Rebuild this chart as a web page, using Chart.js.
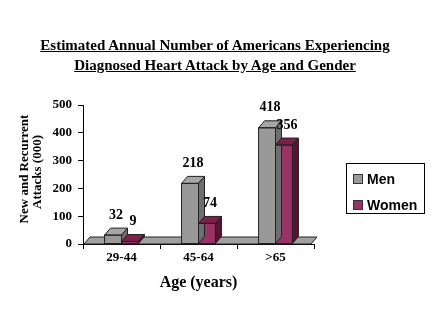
<!DOCTYPE html>
<html><head><meta charset="utf-8">
<script src="https://cdn.jsdelivr.net/npm/chart.js@4"></script>
<style>
html,body{margin:0;padding:0;background:#fff;}
#wrap{position:relative;width:444px;height:324px;overflow:hidden;}
#title{position:absolute;left:0;top:35px;width:430px;text-align:center;font:bold 15px "Liberation Serif",serif;line-height:20px;color:#000;text-decoration:underline;}
#legend{position:absolute;left:346px;top:163px;width:79px;height:51px;border:1px solid #000;box-sizing:border-box;font:bold 14px "Liberation Sans",Arial,sans-serif;}
.it{position:absolute;left:6px;height:16px;line-height:16px;}
.sw{display:inline-block;width:8px;height:8px;border:1px solid #333;margin-right:4px;vertical-align:0px;}
canvas{position:absolute;left:0;top:0;}
</style></head><body>
<div id="wrap">
<canvas id="c" width="444" height="324"></canvas>
<div id="title">Estimated Annual Number of Americans Experiencing<br>Diagnosed Heart Attack by Age and Gender</div>
<div id="legend">
 <div class="it" style="top:7px"><span class="sw" style="background:#999999"></span>Men</div>
 <div class="it" style="top:33px"><span class="sw" style="background:#993366"></span>Women</div>
</div>
</div>
<script>
const categories = ['29-44', '45-64', '>65'];
const seriesNames = ['Men', 'Women'];
const men = [32, 218, 418];
const women = [9, 74, 356];
const yTicks = [0, 100, 200, 300, 400, 500];
const yTitleLines = ['New and Recurrent', 'Attacks (000)'];

const DX = 6, DY = -7;
const faces = [
  {front:'#999999', top:'#a6a6a6', side:'#6e6e6e'},
  {front:'#993366', top:'#7a2049', side:'#5a1234'}
];
const serif = '"Liberation Serif", "Times New Roman", serif';

const floorPlugin = {
  id:'floor',
  beforeDatasetsDraw(chart){
    const {ctx, chartArea:a} = chart;
    ctx.save();
    ctx.beginPath();
    ctx.moveTo(a.left+1, a.bottom);
    ctx.lineTo(a.right-3, a.bottom);
    ctx.lineTo(a.right-3+DX, a.bottom+DY);
    ctx.lineTo(a.left+1+DX, a.bottom+DY);
    ctx.closePath();
    ctx.fillStyle='#a0a0a0';
    ctx.fill();
    ctx.strokeStyle='#222';
    ctx.lineWidth=1;
    ctx.stroke();
    ctx.restore();
  }
};

const bar3dPlugin = {
  id:'bar3d',
  afterDatasetsDraw(chart){
    const ctx = chart.ctx;
    ctx.save();
    ctx.lineWidth = 1;
    ctx.strokeStyle = '#222';
    chart.data.datasets.forEach((ds, di)=>{
      const meta = chart.getDatasetMeta(di);
      meta.data.forEach((b, i)=>{
        const l = b.x - b.width/2, r = b.x + b.width/2, t = b.y, bt = b.base;
        ctx.beginPath();
        ctx.moveTo(l, t); ctx.lineTo(r, t); ctx.lineTo(r+DX, t+DY); ctx.lineTo(l+DX, t+DY); ctx.closePath();
        ctx.fillStyle = faces[di].top; ctx.fill(); ctx.stroke();
        ctx.beginPath();
        ctx.moveTo(r, t); ctx.lineTo(r+DX, t+DY); ctx.lineTo(r+DX, bt+DY); ctx.lineTo(r, bt); ctx.closePath();
        ctx.fillStyle = faces[di].side; ctx.fill(); ctx.stroke();
        ctx.strokeRect(l, t, r-l, bt-t);
        ctx.fillStyle = '#000';
        ctx.font = 'bold 14px ' + serif;
        ctx.textAlign = 'center';
        ctx.textBaseline = 'middle';
        ctx.fillText(String(ds.data[i]), b.x + 3, t - 20);
      });
    });
    ctx.restore();
  }
};

const yTitlePlugin = {
  id:'ytitle',
  afterDraw(chart){
    const ctx = chart.ctx;
    ctx.save();
    ctx.fillStyle = '#000';
    ctx.font = 'bold 13px ' + serif;
    ctx.textAlign = 'center';
    ctx.textBaseline = 'middle';
    ctx.translate(0, 169);
    ctx.rotate(-Math.PI/2);
    ctx.fillText(yTitleLines[0], 0, 25);
    ctx.fillText(yTitleLines[1], -3, 38);
    ctx.restore();
  }
};

new Chart(document.getElementById('c'), {
  type:'bar',
  data:{
    labels: categories,
    datasets:[
      {label:seriesNames[0], data:men, backgroundColor:faces[0].front, borderWidth:0},
      {label:seriesNames[1], data:women, backgroundColor:faces[1].front, borderWidth:0}
    ]
  },
  options:{
    responsive:false,
    animation:false,
    events:[],
    layout:{padding:{left:0, top:105, right:130, bottom:28}},
    plugins:{legend:{display:false}, tooltip:{enabled:false}},
    datasets:{bar:{categoryPercentage:0.44, barPercentage:1.0}},
    scales:{
      x:{
        grid:{display:true, drawOnChartArea:false, tickLength:5, color:'#000', offset:true},
        border:{display:true, color:'#000'},
        ticks:{color:'#000', font:{family:serif, weight:'bold', size:13}, padding:1},
        title:{display:true, text:'Age (years)', color:'#000', font:{family:serif, weight:'bold', size:16}, padding:{top:4,bottom:4}},
        afterFit(s){ s.height = 52; }
      },
      y:{
        min:0, max:500,
        afterBuildTicks(s){ s.ticks = yTicks.map(v=>({value:v})); },
        grid:{display:true, drawOnChartArea:false, tickLength:5, color:'#000'},
        border:{display:true, color:'#000'},
        ticks:{color:'#000', font:{family:serif, weight:'bold', size:13}, padding:6},
        title:{display:false},
        afterFit(s){ s.width = 83; }
      }
    }
  },
  plugins:[floorPlugin, bar3dPlugin, yTitlePlugin]
});
</script>
</body></html>
